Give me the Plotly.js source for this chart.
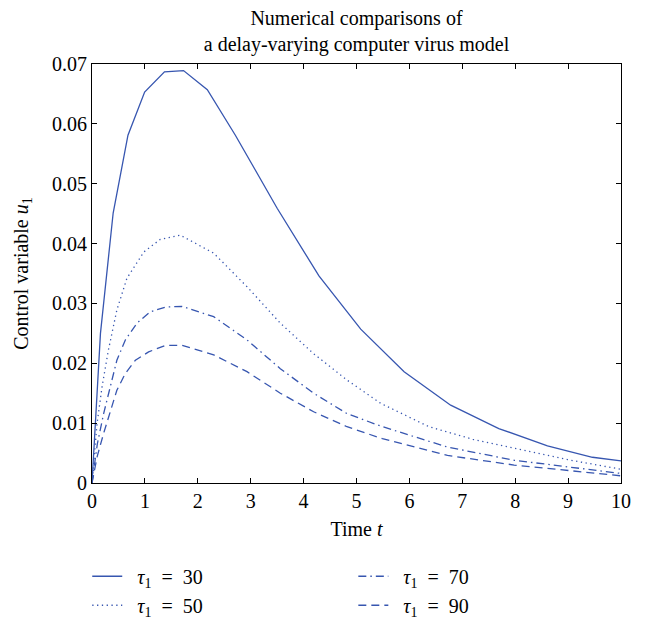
<!DOCTYPE html>
<html>
<head>
<meta charset="utf-8">
<script src="https://cdn.plot.ly/plotly-3.0.1.min.js"></script>
<style>html,body{margin:0;padding:0;background:#fff;}#chart{width:647px;height:621px;}</style>
</head>
<body>
<div id="chart"></div>
<script>
// τ1 = 30 (solid)
const t30 = [0, 0.16, 0.40, 0.68, 0.995, 1.37, 1.73, 2.18, 2.71, 3.50, 4.29, 5.08, 5.90, 6.78, 7.69, 8.61, 9.46, 10];
const u30 = [0, 0.0250, 0.0451, 0.0581, 0.0653, 0.0687, 0.0689, 0.0657, 0.0581, 0.0459, 0.0346, 0.0257, 0.0186, 0.0130, 0.0091, 0.0062, 0.0043, 0.0037];
// τ1 = 50 (dotted)
const t50 = [0, 0.095, 0.19, 0.31, 0.47, 0.66, 0.98, 1.29, 1.67, 2.30, 2.93, 3.56, 4.19, 4.82, 5.46, 6.37, 7.20, 7.98, 8.99, 10];
const u50 = [0, 0.0099, 0.0161, 0.0222, 0.0289, 0.0342, 0.0386, 0.0407, 0.0414, 0.0384, 0.0328, 0.0267, 0.0216, 0.0172, 0.0133, 0.0094, 0.0073, 0.0058, 0.0039, 0.0023];
// τ1 = 70 (dash-dot)
const t70 = [0, 0.10, 0.22, 0.35, 0.47, 0.63, 0.85, 1.10, 1.39, 1.70, 2.30, 2.93, 3.56, 4.19, 4.82, 5.46, 6.72, 7.98, 8.99, 10];
const u70 = [0, 0.0065, 0.0116, 0.0161, 0.0205, 0.0239, 0.0267, 0.0286, 0.0294, 0.0295, 0.0278, 0.0239, 0.0191, 0.0150, 0.0116, 0.0095, 0.0060, 0.0038, 0.0027, 0.0016];
// τ1 = 90 (dashed)
const t90 = [0, 0.10, 0.22, 0.35, 0.47, 0.63, 0.82, 1.07, 1.39, 1.70, 2.30, 2.93, 3.56, 4.19, 4.82, 5.49, 6.72, 7.98, 8.99, 10];
const u90 = [0, 0.0045, 0.0083, 0.0122, 0.0155, 0.0183, 0.0205, 0.0219, 0.0230, 0.0230, 0.0214, 0.0186, 0.0150, 0.0119, 0.0094, 0.0074, 0.0046, 0.0030, 0.0021, 0.0012];

const NB = '\u00a0';
const tauLabels = ['30', '50', '70', '90'];
const names = tauLabels.map(v => NB + NB + '<i>τ</i><sub>1</sub>' + NB + NB + '=' + NB + NB + v);
const xTicks = [0,1,2,3,4,5,6,7,8,9,10];
const yTicks = [0,0.01,0.02,0.03,0.04,0.05,0.06,0.07];
const yTickText = ['0','0.01','0.02','0.03','0.04','0.05','0.06','0.07'];

const col = '#3756b0';
const FONT = 'Liberation Serif, Times New Roman, serif';

const data = [
  {x: t30, y: u30, name: names[0], mode: 'lines', line: {color: col, width: 1.3, dash: 'solid'}, legend: 'legend'},
  {x: t50, y: u50, name: names[1], mode: 'lines', line: {color: col, width: 1.3, dash: '1.3px,3.5px'}, legend: 'legend'},
  {x: t70, y: u70, name: names[2], mode: 'lines', line: {color: col, width: 1.3, dash: '8px,4px,1.5px,4px'}, legend: 'legend2'},
  {x: t90, y: u90, name: names[3], mode: 'lines', line: {color: col, width: 1.3, dash: '8px,5px'}, legend: 'legend2'}
];

const axisCommon = {
  showgrid: false, zeroline: false, showline: true, linecolor: '#000', linewidth: 1,
  mirror: 'ticks', ticks: 'inside', ticklen: 5, tickcolor: '#000', tickwidth: 1,
  tickfont: {family: FONT, size: 20, color: '#000'}
};

const legendCommon = {
  orientation: 'v', yanchor: 'top', xanchor: 'left', bgcolor: 'rgba(0,0,0,0)',
  font: {family: FONT, size: 20, color: '#000'}, tracegroupgap: 0, traceorder: 'normal'
};

const layout = {
  width: 647, height: 621,
  margin: {l: 92, r: 26, t: 64, b: 138, autoexpand: false},
  paper_bgcolor: '#fff', plot_bgcolor: '#fff',
  title: {
    text: 'Numerical comparisons of<br>a delay-varying computer virus model',
    font: {family: FONT, size: 20, color: '#000'},
    x: 0.5, xref: 'paper', y: 0.960, yref: 'container', yanchor: 'middle'
  },
  xaxis: Object.assign({}, axisCommon, {
    range: [0, 10], tickvals: xTicks, ticktext: xTicks.map(String),
    title: {text: 'Time <i>t</i>', font: {family: FONT, size: 20, color: '#000'}, standoff: 10}
  }),
  yaxis: Object.assign({}, axisCommon, {
    range: [0, 0.07], tickvals: yTicks, ticktext: yTickText,
    title: {text: 'Control variable <i>u</i><sub>1</sub>', font: {family: FONT, size: 20, color: '#000'}, standoff: 18}
  }),
  showlegend: true,
  legend: Object.assign({}, legendCommon, {x: -0.009, y: -0.176}),
  legend2: Object.assign({}, legendCommon, {x: 0.494, y: -0.176})
};

Plotly.newPlot('chart', data, layout, {displayModeBar: false, staticPlot: true});
</script>
</body>
</html>
